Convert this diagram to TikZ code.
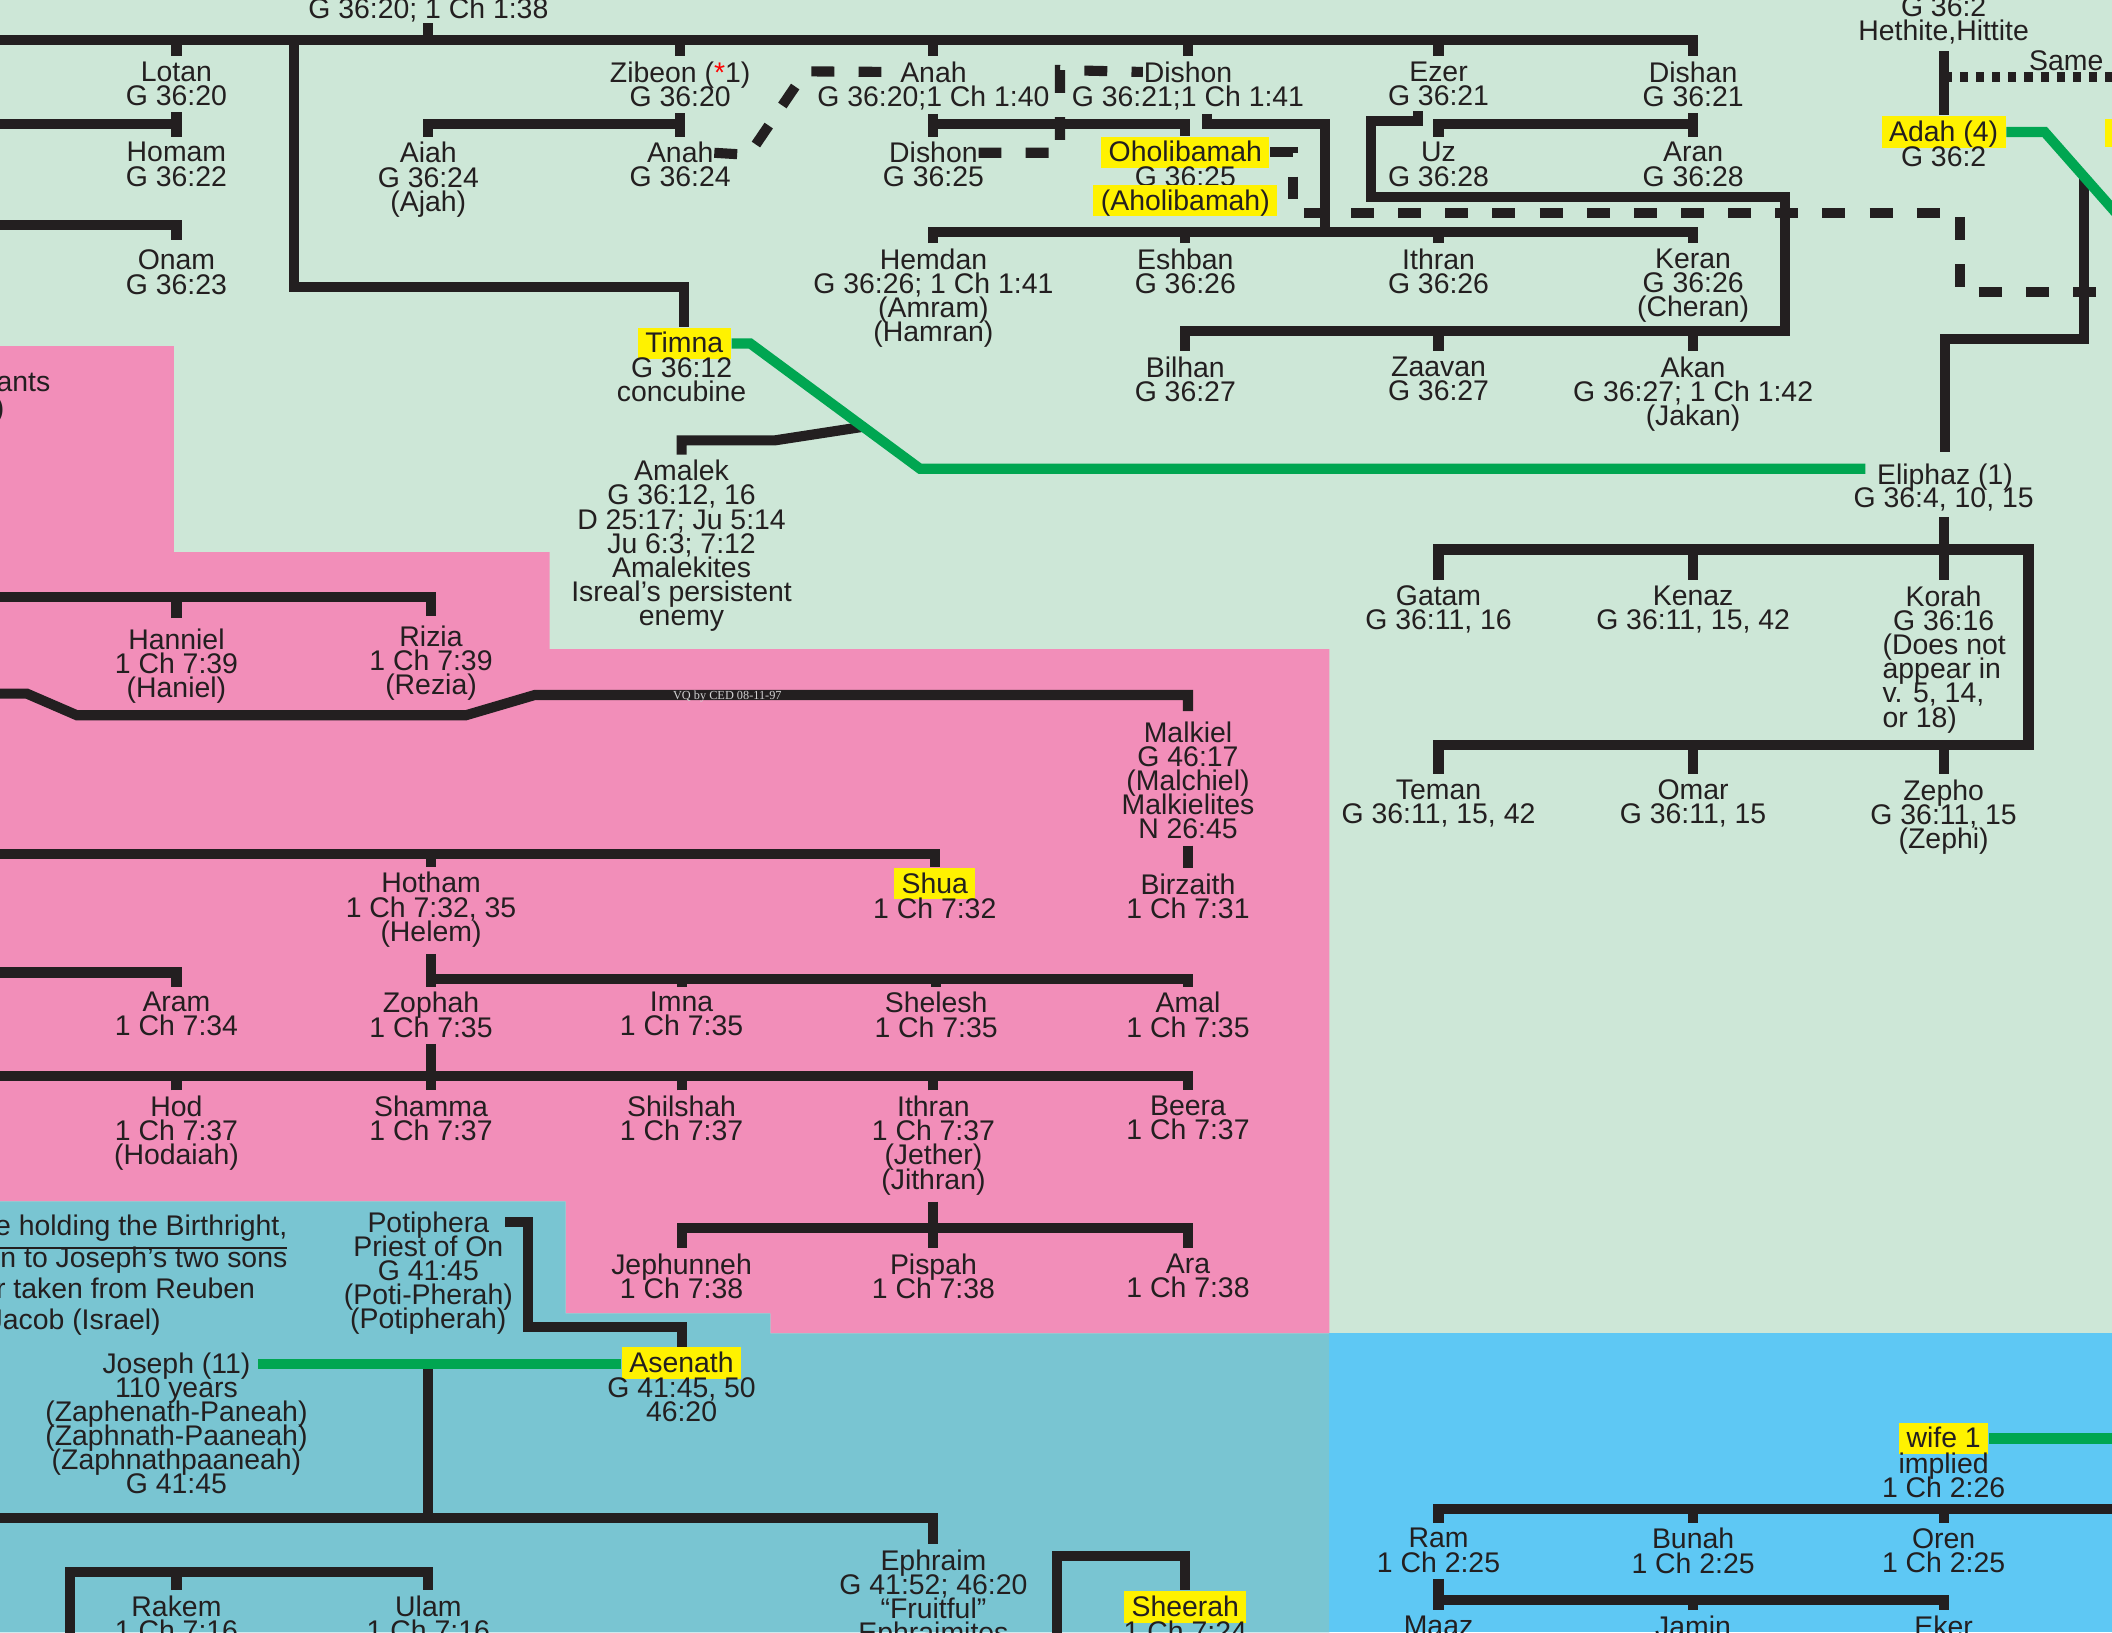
\documentclass[tikz,border=0pt]{standalone}
\usepackage{fontspec}
\setmainfont{Liberation Sans}
\newfontfamily\vqfont{Liberation Serif}
\definecolor{bggreen}{RGB}{205,231,215}
\definecolor{bgpink}{RGB}{242,142,185}
\definecolor{bgteal}{RGB}{121,197,210}
\definecolor{bgblue}{RGB}{94,200,244}
\definecolor{inkblack}{RGB}{35,31,32}
\definecolor{wedgreen}{RGB}{0,166,81}
\definecolor{hlyellow}{RGB}{255,242,0}
\newcommand\pfont{\fontsize{6}{5.1}\selectfont\lineskiplimit=-10pt\relax}
\newcommand\notefont{\fontsize{6}{6.6}\selectfont}

\begin{document}
\begin{tikzpicture}[x=0.1mm, y=-0.1mm,
  pn/.style={anchor=north, align=center, inner sep=0pt, font=\pfont, text=inkblack},
  hl/.style={fill=hlyellow, inner xsep=0.55mm, inner ysep=0.4pt, text height=4.9pt, text depth=0.9pt, font=\pfont, text=inkblack},
  nt/.style={anchor=north east, inner sep=0pt, font=\notefont, text=inkblack},
  vq/.style={inner sep=0pt, font=\vqfont\fontsize{2.6}{3}\selectfont, text=black!18},
  ln/.style={draw=inkblack, line width=0.75mm},
  gl/.style={draw=wedgreen, line width=0.75mm},
  dl/.style={ln, dash pattern=on 1.7mm off 1.8mm},
  sl/.style={ln, dash pattern=on 0.6mm off 0.6mm}
]
\useasboundingbox (0,0) rectangle (1568,1212);
\clip (0,0) rectangle (1568,1212);

% background bands
\fill[bggreen] (0,0) rectangle (1568,1212);
\fill[bgpink] (0,257) -- (129,257) -- (129,410) -- (408,410) -- (408,482) -- (987,482)
  -- (987,990) -- (572,990) -- (572,975) -- (420,975) -- (420,892) -- (0,892) -- cycle;
\fill[bgteal] (0,892) -- (420,892) -- (420,975) -- (572,975) -- (572,990) -- (987,990)
  -- (987,1212) -- (0,1212) -- cycle;
\fill[bgblue] (987,990) rectangle (1568,1212);
\fill[hlyellow] (1563,88) rectangle (1570,109);

% Seir's line
\node[pn] (seirref) at (318,-2) {G 36:20; 1 Ch 1:38};
\node[pn] (lotan) at (131,45) {Lotan\\G 36:20};
\node[pn] (zibeon) at (505,45) {Zibeon ({\color{red}*}1)\\G 36:20};
\node[pn] (anahA) at (693,45) {Anah};
\node[pn] (anahAref) at (693,63) {G 36:20;1 Ch 1:40};
\node[pn] (dishonA) at (882,45) {Dishon};
\node[pn] (dishonAref) at (882,63) {G 36:21;1 Ch 1:41};
\node[pn] (ezer) at (1068,45) {Ezer\\G 36:21};
\node[pn] (dishan) at (1257,45) {Dishan\\G 36:21};

\node[pn] (homam) at (131,105) {Homam\\G 36:22};
\node[pn] (aiah) at (318,105) {Aiah\\G 36:24\\(Ajah)};
\node[pn] (anahB) at (505,105) {Anah};
\node[pn] (anahBref) at (505,123) {G 36:24};
\node[pn] (dishonB) at (693,105) {Dishon};
\node[pn] (dishonBref) at (693,123) {G 36:25};
\node[hl] (oholi) at (880,113) {Oholibamah};
\node[pn] (oholiref) at (880,123) {G 36:25};
\node[hl] (oholialt) at (880,149) {(Aholibamah)};
\node[pn] (uz) at (1068,105) {Uz\\G 36:28};
\node[pn] (aran) at (1257,105) {Aran\\G 36:28};

\node[pn] (onam) at (131,185) {Onam\\G 36:23};
\node[pn] (hemdan) at (693,184) {Hemdan\\G 36:26; 1 Ch 1:41\\(Amram)\\(Hamran)};
\node[pn] (eshban) at (880,184) {Eshban\\G 36:26};
\node[pn] (ithranE) at (1068,184) {Ithran\\G 36:26};
\node[pn] (keran) at (1257,184) {Keran\\G 36:26\\(Cheran)};

\node[hl] (timna) at (508,255) {Timna};
\node[pn] (timnaref) at (506,265) {G 36:12\\concubine};
\node[pn] (bilhan) at (880,264) {Bilhan\\G 36:27};
\node[pn] (zaavan) at (1068,264) {Zaavan\\G 36:27};
\node[pn] (akan) at (1257,264) {Akan\\G 36:27; 1 Ch 1:42\\(Jakan)};
\node[pn] (amalek) at (506,341) {Amalek\\G 36:12, 16\\D 25:17; Ju 5:14\\Ju 6:3; 7:12\\Amalekites\\Isreal’s persistent\\enemy};

% Esau's side
\node[pn] (hittite) at (1443,-3) {G 36:2\\Hethite,Hittite};
\node[pn] (same) at (1534,37) {Same};
\node[hl] (adah) at (1443,98) {Adah (4)};
\node[pn] (adahref) at (1443,108) {G 36:2};
\node[pn] (eliphaz) at (1444,344) {Eliphaz (1)};
\node[pn] (eliphazref) at (1443,361) {G 36:4, 10, 15};
\node[pn] (gatam) at (1068,434) {Gatam\\G 36:11, 16};
\node[pn] (kenaz) at (1257,434) {Kenaz\\G 36:11, 15, 42};
\node[pn] (korah) at (1443,434) {Korah\\G 36:16};
\node[pn, anchor=north west, align=left] (korahnote) at (1397,470) {(Does not\\appear in\\v. 5, 14,\\or 18)};
\node[pn] (teman) at (1068,578) {Teman\\G 36:11, 15, 42};
\node[pn] (omar) at (1257,578) {Omar\\G 36:11, 15};
\node[pn] (zepho) at (1443,578) {Zepho\\G 36:11, 15\\(Zephi)};

% Asher band
\node[pn, anchor=north east] (antsnote) at (38,276) {ants};
\node[pn, anchor=north east] (parnote) at (4,294) {)};
\node[pn] (hanniel) at (131,466) {Hanniel\\1 Ch 7:39\\(Haniel)};
\node[pn] (rizia) at (320,464) {Rizia\\1 Ch 7:39\\(Rezia)};
\node[pn] (malkiel) at (882,535) {Malkiel\\G 46:17\\(Malchiel)\\Malkielites\\N 26:45};
\node[pn] (hotham) at (320,647) {Hotham\\1 Ch 7:32, 35\\(Helem)};
\node[hl] (shua) at (694,656) {Shua};
\node[pn] (shuaref) at (694,666) {1 Ch 7:32};
\node[pn] (birzaith) at (882,648) {Birzaith\\1 Ch 7:31};
\node[pn] (aram) at (131,736) {Aram\\1 Ch 7:34};
\node[pn] (zophah) at (320,736) {Zophah\\1 Ch 7:35};
\node[pn] (imna) at (506,736) {Imna\\1 Ch 7:35};
\node[pn] (shelesh) at (695,736) {Shelesh\\1 Ch 7:35};
\node[pn] (amal) at (882,736) {Amal\\1 Ch 7:35};
\node[pn] (hod) at (131,813) {Hod\\1 Ch 7:37\\(Hodaiah)};
\node[pn] (shamma) at (320,813) {Shamma\\1 Ch 7:37};
\node[pn] (shilshah) at (506,813) {Shilshah\\1 Ch 7:37};
\node[pn] (ithranP) at (693,813) {Ithran\\1 Ch 7:37\\(Jether)\\(Jithran)};
\node[pn] (beera) at (882,813) {Beera\\1 Ch 7:37};
\node[pn] (jephunneh) at (506,930) {Jephunneh\\1 Ch 7:38};
\node[pn] (pispah) at (693,930) {Pispah\\1 Ch 7:38};
\node[pn] (ara) at (882,930) {Ara\\1 Ch 7:38};

% Joseph band
\node[nt] (note1) at (214,901) {\underline{e holding the Birthright,}};
\node[nt] (note2) at (214,925) {en to Joseph’s two sons};
\node[nt] (note3) at (190,948) {r taken from Reuben};
\node[nt] (note4) at (120,971) {Jacob (Israel)};
\node[pn] (potiphera) at (318,899) {Potiphera\\Priest of On\\G 41:45\\(Poti-Pherah)\\(Potipherah)};
\node[hl] (asenath) at (506,1012) {Asenath};
\node[pn] (asenathref) at (506,1022) {G 41:45, 50\\46:20};
\node[pn] (joseph) at (131,1004) {Joseph (11)};
\node[pn] (josephref) at (131,1022) {110 years\\(Zaphenath-Paneah)\\(Zaphnath-Paaneah)\\(Zaphnathpaaneah)\\G 41:45};
\node[pn] (ephraim) at (693,1150) {Ephraim\\G 41:52; 46:20\\“Fruitful”\\Ephraimites};
\node[pn] (rakem) at (131,1184) {Rakem\\1 Ch 7:16};
\node[pn] (ulam) at (318,1184) {Ulam\\1 Ch 7:16};
\node[hl] (sheerah) at (880,1193) {Sheerah};
\node[pn] (sheerahref) at (880,1203) {1 Ch 7:24};

% Judah band
\node[hl] (wife) at (1443,1068) {wife 1};
\node[pn] (wiferef) at (1443,1078) {implied\\1 Ch 2:26};
\node[pn] (ram) at (1068,1134) {Ram\\1 Ch 2:25};
\node[pn] (bunah) at (1257,1134) {Bunah\\1 Ch 2:25};
\node[pn] (oren) at (1443,1134) {Oren\\1 Ch 2:25};
\node[pn] (maaz) at (1068,1199) {Maaz};
\node[pn] (jamin) at (1257,1199) {Jamin};
\node[pn] (eker) at (1443,1199) {Eker};

% lines, Seir
\coordinate (top) at (0,30);
\coordinate (tb) at (218,213);
\coordinate (hb) at (0,172);
\coordinate (eb) at (0,246);
\draw[ln] (top) -| ([yshift=1pt]dishan.north);
\draw[ln] (seirref.south) -- (seirref.south |- top);
\foreach \n in {lotan,zibeon,anahA,dishonA,ezer}
  \draw[ln] ([yshift=1pt]\n.north) -- (\n.north |- top);
\draw[ln] (tb |- top) -- (tb) -| (timna.north);
\draw[ln] ([yshift=-1.2pt]lotan.south) -- ([yshift=1pt]homam.north);
\draw[ln] (0,92) -- (homam.north |- 0,92);
\draw[ln] (0,167) -| ([yshift=2pt]onam.north);
\draw[ln] ([yshift=-1.2pt]zibeon.south) -- ([yshift=1pt]anahB.north);
\draw[ln] (zibeon.south |- 0,92) -| ([yshift=1pt]aiah.north);
\draw[ln] ([yshift=-0.6pt]anahAref.south) -- ([yshift=1pt]dishonB.north);
\draw[ln] (anahAref.south |- 0,92) -| (oholi.north);
\draw[ln] ([xshift=1.4mm,yshift=-0.6pt]dishonAref.south) |- (984,92) -- (984,172);
\draw[ln] ([yshift=1pt]hemdan.north) |- (keran.north |- hb) -- ([yshift=1pt]keran.north);
\foreach \n in {eshban,ithranE}
  \draw[ln] ([yshift=1pt]\n.north) -- (\n.north |- hb);
\draw[ln] ([xshift=-1.5mm,yshift=-1pt]ezer.south) |- (1018,90) |- (1325,146) |- (bilhan.north |- eb) -- ([yshift=1pt]bilhan.north);
\foreach \n in {zaavan,akan}
  \draw[ln] ([yshift=1pt]\n.north) -- (\n.north |- eb);
\draw[ln] ([yshift=-1.2pt]dishan.south) -- ([yshift=1pt]aran.north);
\draw[ln] (dishan.south |- 0,92) -| ([yshift=1pt]uz.north);

% same persons, dashed
\draw[dl] (anahB.east) -- (556,115) -- (598,53) -- (anahA.west);
\draw[dl] (dishonB.east) -| (787,52) -- (dishonA.west);
\draw[dl] (oholi.east) -| (960,158) -- (1455,158) |- (1600,217);

% Esau's side
\coordinate (adahwed) at (1547,131);
\coordinate (elibend) at (683,348);
\draw[ln] ([yshift=-1.2pt]hittite.south) -- (adah.north);
\draw[sl] (adah.north |- 0,57) -- (1600,57);
\draw[ln] (adahwed) |- (eliphaz.north |- 0,252) -- ([yshift=2.5pt]eliphaz.north);
\draw[gl] (adah.east) -- (1518,98) -- (1600,191);
\draw[ln] ([yshift=1pt]amalek.north) |- (575,327) -- (640,317);
\draw[gl] (timna.east) -- (557,255) -- (elibend) -- ([xshift=-0.8mm]eliphaz.west |- elibend);
\coordinate (gb) at (0,408);
\coordinate (tmb) at (0,553);
\draw[ln] ([yshift=-1.2pt]eliphazref.south) -- ([yshift=1pt]korah.north);
\draw[ln] ([yshift=1pt]gatam.north) |- (1506,408) |- (teman.north |- tmb) -- ([yshift=1pt]teman.north);
\draw[ln] ([yshift=1pt]kenaz.north) -- (kenaz.north |- gb);
\foreach \n in {omar,zepho}
  \draw[ln] ([yshift=1pt]\n.north) -- (\n.north |- tmb);

% Asher band
\coordinate (zb) at (0,727);
\coordinate (sb) at (0,799);
\coordinate (jb) at (0,912);
\draw[ln] (0,443) -| ([yshift=2pt]rizia.north);
\draw[ln] ([yshift=2pt]hanniel.north) -- (hanniel.north |- 0,443);
\draw[ln] (0,515) -- (20,515) -- (57,531) -- (346,531) -- (397,516) -| ([yshift=2pt]malkiel.north);
\node[vq] (vq) at (540,517) {VQ by CED 08-11-97};
\draw[ln] ([yshift=-1.2pt]malkiel.south) -- ([yshift=1pt]birzaith.north);
\draw[ln] (0,634) -| (shua.north);
\draw[ln] ([yshift=1pt]hotham.north) -- (hotham.north |- 0,634);
\draw[ln] ([yshift=-1.2pt]hotham.south) -- ([yshift=1pt]zophah.north);
\draw[ln] (hotham.south |- zb) -| ([yshift=1pt]amal.north);
\foreach \n in {imna,shelesh}
  \draw[ln] ([yshift=1pt]\n.north) -- (\n.north |- zb);
\draw[ln] (0,722) -| ([yshift=1pt]aram.north);
\draw[ln] ([yshift=-1.2pt]zophah.south) -- ([yshift=1pt]shamma.north);
\draw[ln] (sb) -| ([yshift=1pt]beera.north);
\foreach \n in {hod,shilshah,ithranP}
  \draw[ln] ([yshift=1pt]\n.north) -- (\n.north |- sb);
\draw[ln] ([yshift=-1.2pt]ithranP.south) -- ([yshift=1pt]pispah.north);
\draw[ln] ([yshift=1pt]jephunneh.north) |- (ara.north |- jb) -- ([yshift=1pt]ara.north);

% Joseph band
\coordinate (jm) at (318,1013);
\coordinate (epb) at (0,1127);
\draw[ln] (375,907) -| (392,985) -| (asenath.north);
\draw[ln] (jm) -- (jm |- epb);
\draw[ln] (epb) -| ([yshift=1pt]ephraim.north);
\draw[gl] ([xshift=0.5mm]joseph.east |- jm) -- (asenath.west |- jm);
\draw[ln] (52,1250) |- (ulam.north |- 0,1167) -- ([yshift=1pt]ulam.north);
\draw[ln] ([yshift=1pt]rakem.north) -- (rakem.north |- 0,1167);
\draw[ln] (785,1250) |- (sheerah.north |- 0,1155) -- (sheerah.north);

% Judah band
\draw[gl] (wife.east) -- (1600,1068);
\draw[ln] ([yshift=1pt]ram.north) |- (1600,1120);
\foreach \n in {bunah,oren}
  \draw[ln] ([yshift=1pt]\n.north) -- (\n.north |- 0,1120);
\draw[ln] ([yshift=-1.2pt]ram.south) -- ([yshift=1pt]maaz.north);
\draw[ln] (ram.south |- 0,1188) -| ([yshift=1pt]eker.north);
\draw[ln] ([yshift=1pt]jamin.north) -- (jamin.north |- 0,1188);
\end{tikzpicture}
\end{document}
